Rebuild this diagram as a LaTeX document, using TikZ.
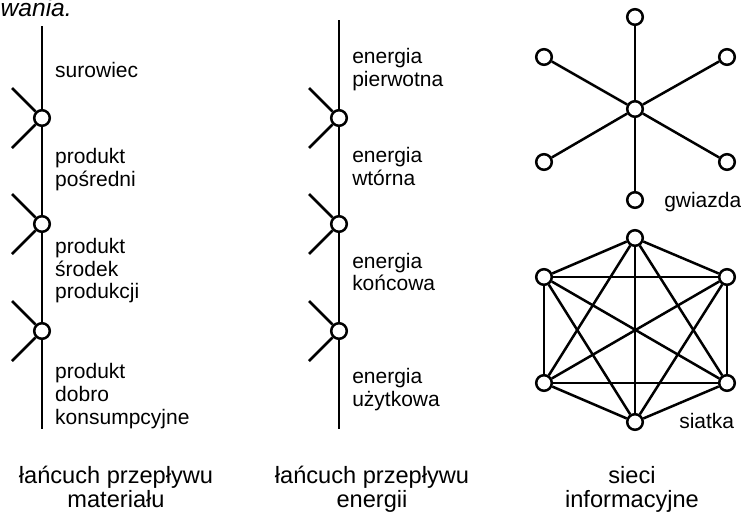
\documentclass[tikz,border=0pt]{standalone}
\usepackage{fontspec}
\setmainfont{Liberation Sans}

\begin{document}
\begin{tikzpicture}
		[x=0.5pt, y=-0.5pt, line width=1.25pt,
		kolko/.style={circle, draw, fill=white, inner sep=0pt, minimum size=7.8pt},
		opis/.style={anchor=base west, align=left, inner sep=0pt, font=\fontsize{10.5}{11.5}\selectfont},
		podpis/.style={anchor=base, align=center, inner sep=0pt, font=\fontsize{11.8}{12}\selectfont}]
		\useasboundingbox (0,0) rectangle (741,514);
		\node[anchor=base east, inner sep=0pt, font=\fontsize{12.3}{15}\selectfont\itshape] (ogon) at (73,17) {wania.};
		
		% lancuch materialu
		\coordinate (mtop) at (42,26);
		\coordinate (mbot) at (42,429);
		\foreach \i/\y in {1/118, 2/224, 3/331} {
			\node[kolko] (m\i) at (42,\y) {};
			\coordinate (mg\i) at (12,{\y-30});
			\coordinate (md\i) at (12,{\y+30});
		}
		\draw (mtop) -- (m1) -- (m2) -- (m3) -- (mbot);
		\foreach \i in {1,2,3} \draw (mg\i) -- (m\i) -- (md\i);
		% base = ostatnia linia tekstu
		\node[opis] (m0t) at (54,77) {surowiec};
		\node[opis] (m1t) at (54,186) {produkt\\pośredni};
		\node[opis] (m2t) at (54,299) {produkt\\środek\\produkcji};
		\node[opis] (m3t) at (54,424) {produkt\\dobro\\konsumpcyjne};
		
		% lancuch energii
		\coordinate (etop) at (339,20);
		\coordinate (ebot) at (339,429);
		\foreach \i/\y in {1/118, 2/224, 3/331} {
			\node[kolko] (e\i) at (339,\y) {};
			\coordinate (eg\i) at (309,{\y-30});
			\coordinate (ed\i) at (309,{\y+30});
		}
		\draw (etop) -- (e1) -- (e2) -- (e3) -- (ebot);
		\foreach \i in {1,2,3} \draw (eg\i) -- (e\i) -- (ed\i);
		\node[opis] (e0t) at (351,86) {energia\\pierwotna};
		\node[opis] (e1t) at (351,185) {energia\\wtórna};
		\node[opis] (e2t) at (351,291) {energia\\końcowa};
		\node[opis] (e3t) at (351,406) {energia\\użytkowa};
		
		% gwiazda
		\node[kolko] (g0) at (635,109) {};
		\foreach \i/\x/\y in {1/635/17, 2/727/57, 3/727/162, 4/635/200, 5/544/162, 6/544/57} {
			\node[kolko] (g\i) at (\x,\y) {};
			\draw (g0) -- (g\i);
		}
		\node[opis] (gw) at (663,207) {gwiazda};
		
		% siatka
		\foreach \i/\x/\y in {1/635/238, 2/727/277, 3/727/383, 4/635/422, 5/544/383, 6/544/277}
		\node[kolko] (s\i) at (\x,\y) {};
		\foreach \a/\b in {1/2,1/3,1/4,1/5,1/6,2/3,2/4,2/5,2/6,3/4,3/5,3/6,4/5,4/6,5/6}
		\draw (s\a) -- (s\b);
		\node[opis] (st) at (678,428) {siatka};
		
		\node[podpis] (pm) at (116,507) {łańcuch przepływu\\materiału};
		\node[podpis] (pe) at (372,507) {łańcuch przepływu\\energii};
		\node[podpis] (ps) at (632,507) {sieci\\informacyjne};
\end{tikzpicture}
\end{document}
